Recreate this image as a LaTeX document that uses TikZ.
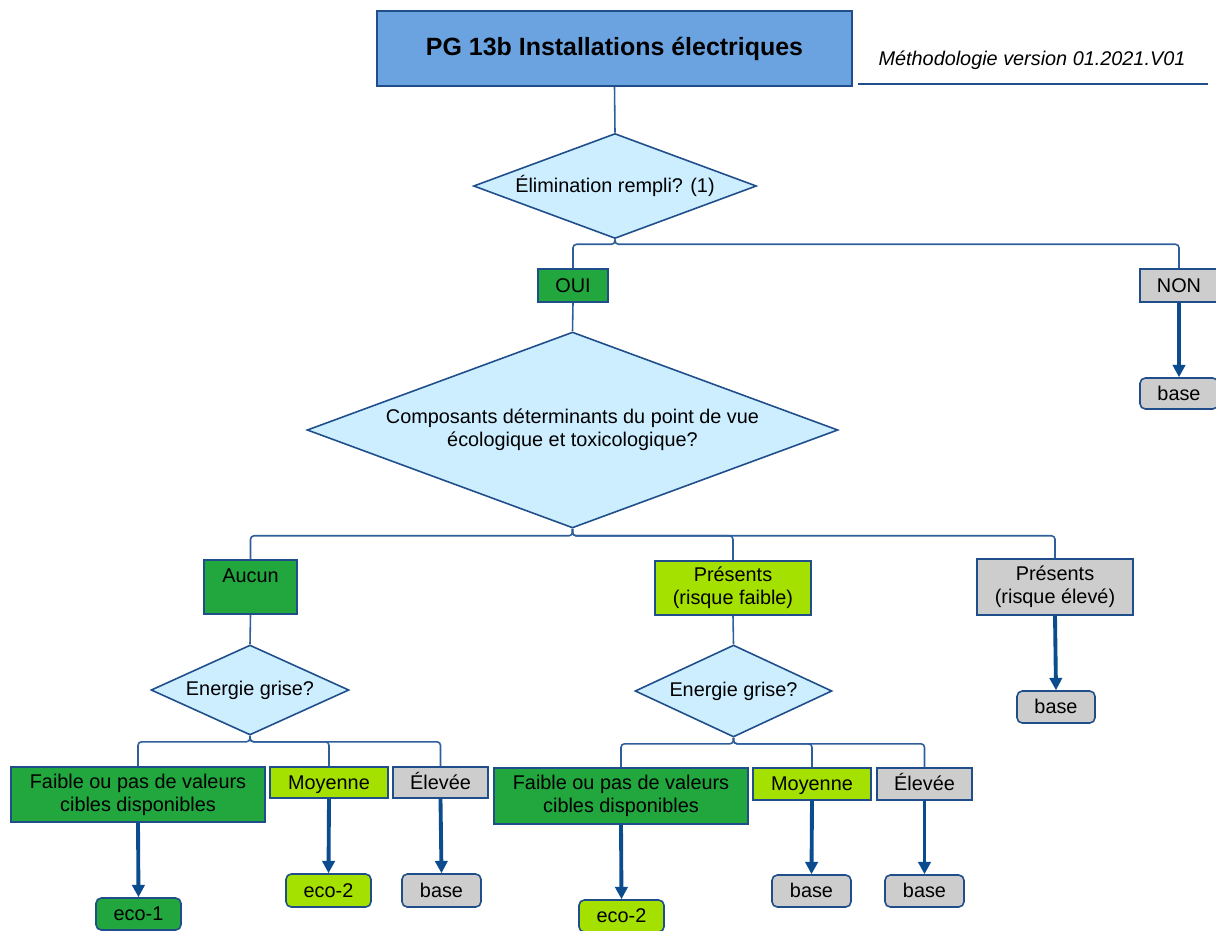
\documentclass[tikz,border=0pt]{standalone}
\usepackage{fontspec}
\setmainfont{Liberation Sans}
\usetikzlibrary{shapes.geometric,arrows.meta}
\definecolor{bleutitre}{HTML}{6AA3E0}
\definecolor{bleuclair}{HTML}{CCEEFF}
\definecolor{bleutrait}{HTML}{2F5F9A}
\definecolor{bleufonce}{HTML}{1F4E8A}
\definecolor{bleufleche}{HTML}{0B4C8F}
\definecolor{vert}{HTML}{22A63E}
\definecolor{vertclair}{HTML}{A4E000}
\definecolor{gris}{HTML}{CDCDCD}
\begin{document}
\begin{tikzpicture}[x=0.02cm,y=-0.02cm,font=\fontsize{11.3}{13.2}\selectfont]
			\tikzstyle{trait}=[bleutrait,line width=0.9pt,rounded corners=2pt]
			\tikzstyle{fleche}=[bleufleche,line width=2.2pt,-{Triangle[width=7pt,length=7pt]}]
			\tikzstyle{boite}=[draw=bleufonce,line width=0.9pt,align=center,inner sep=0pt]
			\tikzstyle{ligne}=[boite,text height=8pt,text depth=0.5pt]
			\tikzstyle{feuille}=[ligne,rounded corners=3pt]
			\tikzstyle{losange}=[diamond,draw=bleufonce,line width=0.9pt,fill=bleuclair,align=center,inner sep=0pt]
			\useasboundingbox (0,0) rectangle (1216,930);
			% titre
			\node[boite,fill=bleutitre,minimum width=9.5cm,minimum height=1.5cm,font=\fontsize{14.2}{16}\selectfont\bfseries] (titre) at (614.5,48.5) {PG 13b Installations électriques};
			\node[font=\fontsize{11.3}{13.2}\selectfont\itshape] (version) at (1032,60) {Méthodologie version 01.2021.V01};
			\coordinate (va) at (858,84); \coordinate (vb) at (1208,84);
			\draw[bleufonce,line width=0.9pt] (va)--(vb);
			% premier niveau
			\node[losange,aspect=2.7,minimum width=5.66cm,minimum height=2.1cm] (L1) at (615,186) {Élimination rempli? (1)};
			\node[ligne,fill=vert,minimum width=1.4cm,minimum height=0.66cm] (oui) at (573,285.5) {OUI};
			\node[ligne,fill=gris,minimum width=1.56cm,minimum height=0.66cm] (non) at (1179,285.5) {NON};
			\node[feuille,fill=gris,minimum width=1.56cm,minimum height=0.62cm] (nonbase) at (1179,393.5) {base};
			\draw[trait] (titre.south)--(L1.north);
			\draw[trait] (L1.south)--++(0,5)-|(oui.north); \draw[trait] (L1.south)--++(0,5)-|(non.north);
			\draw[fleche] (non.south)--(nonbase.north);
			% deuxieme niveau
			\node[losange,aspect=2.71,minimum width=10.62cm,minimum height=3.92cm] (L2) at (572.5,430) {Composants déterminants du point de vue\\écologique et toxicologique?};
			\node[boite,fill=vert,minimum width=1.86cm,minimum height=1.08cm] (aucun) at (250.5,587) {Aucun\\\mbox{}};
			\node[boite,fill=vertclair,minimum width=3.12cm,minimum height=1.08cm] (pf) at (733,588) {Présents\\(risque faible)};
			\node[boite,fill=gris,minimum width=3.12cm,minimum height=1.12cm] (pe) at (1055,587) {Présents\\(risque élevé)};
			\node[feuille,fill=gris,minimum width=1.56cm,minimum height=0.64cm] (pebase) at (1056,707) {base};
			\draw[trait] (oui.south)--(L2.north);
			\draw[trait] (L2.south)--++(0,7)-|(aucun.north); \draw[trait] (L2.south)--++(0,7)-|(pf.north);
			\draw[trait] (L2.south)--++(0,7)-|(pe.north);
			\draw[fleche] (pe.south)--(pebase.north);
			% branche aucun
			\node[losange,aspect=2.2,minimum width=3.96cm,minimum height=1.8cm] (L3) at (250,690) {Energie grise?};
			\node[boite,fill=vert,minimum width=5.08cm,minimum height=1.1cm] (fa1) at (138,794.5) {Faible ou pas de valeurs\\cibles disponibles};
			\node[ligne,fill=vertclair,minimum width=2.36cm,minimum height=0.62cm] (mo1) at (329,782.5) {Moyenne};
			\node[ligne,fill=gris,minimum width=1.9cm,minimum height=0.62cm] (el1) at (440.5,782.5) {Élevée};
			\node[feuille,fill=vert,minimum width=1.7cm,minimum height=0.64cm] (eco1) at (138.5,914) {eco-1};
			\node[feuille,fill=vertclair,minimum width=1.7cm,minimum height=0.66cm] (eco2a) at (328.5,890.5) {eco-2};
			\node[feuille,fill=gris,minimum width=1.58cm,minimum height=0.66cm] (base1) at (441.5,890.5) {base};
			\draw[trait] (aucun.south)--(L3.north);
			\draw[trait] (L3.south)--++(0,6)-|(fa1.north); \draw[trait] (L3.south)--++(0,6)-|(mo1.north);
			\draw[trait] (L3.south)--++(0,6)-|(el1.north);
			\draw[fleche] (fa1.south)--(eco1.north); \draw[fleche] (mo1.south)--(eco2a.north);
			\draw[fleche] (el1.south)--(base1.north);
			% branche risque faible
			\node[losange,aspect=2.14,minimum width=3.94cm,minimum height=1.84cm] (L4) at (733.5,691) {Energie grise?};
			\node[boite,fill=vert,minimum width=5.08cm,minimum height=1.12cm] (fa2) at (621,796) {Faible ou pas de valeurs\\cibles disponibles};
			\node[ligne,fill=vertclair,minimum width=2.36cm,minimum height=0.64cm] (mo2) at (812,784) {Moyenne};
			\node[ligne,fill=gris,minimum width=1.9cm,minimum height=0.64cm] (el2) at (924.5,784) {Élevée};
			\node[feuille,fill=vertclair,minimum width=1.7cm,minimum height=0.64cm] (eco2b) at (621.5,916) {eco-2};
			\node[feuille,fill=gris,minimum width=1.58cm,minimum height=0.64cm] (base2) at (811.5,891) {base};
			\node[feuille,fill=gris,minimum width=1.58cm,minimum height=0.64cm] (base3) at (924.5,891) {base};
			\draw[trait] (pf.south)--(L4.north);
			\draw[trait] (L4.south)--++(0,6)-|(fa2.north); \draw[trait] (L4.south)--++(0,6)-|(mo2.north);
			\draw[trait] (L4.south)--++(0,6)-|(el2.north);
			\draw[fleche] (fa2.south)--(eco2b.north); \draw[fleche] (mo2.south)--(base2.north);
			\draw[fleche] (el2.south)--(base3.north);
		\end{tikzpicture}
\end{document}
